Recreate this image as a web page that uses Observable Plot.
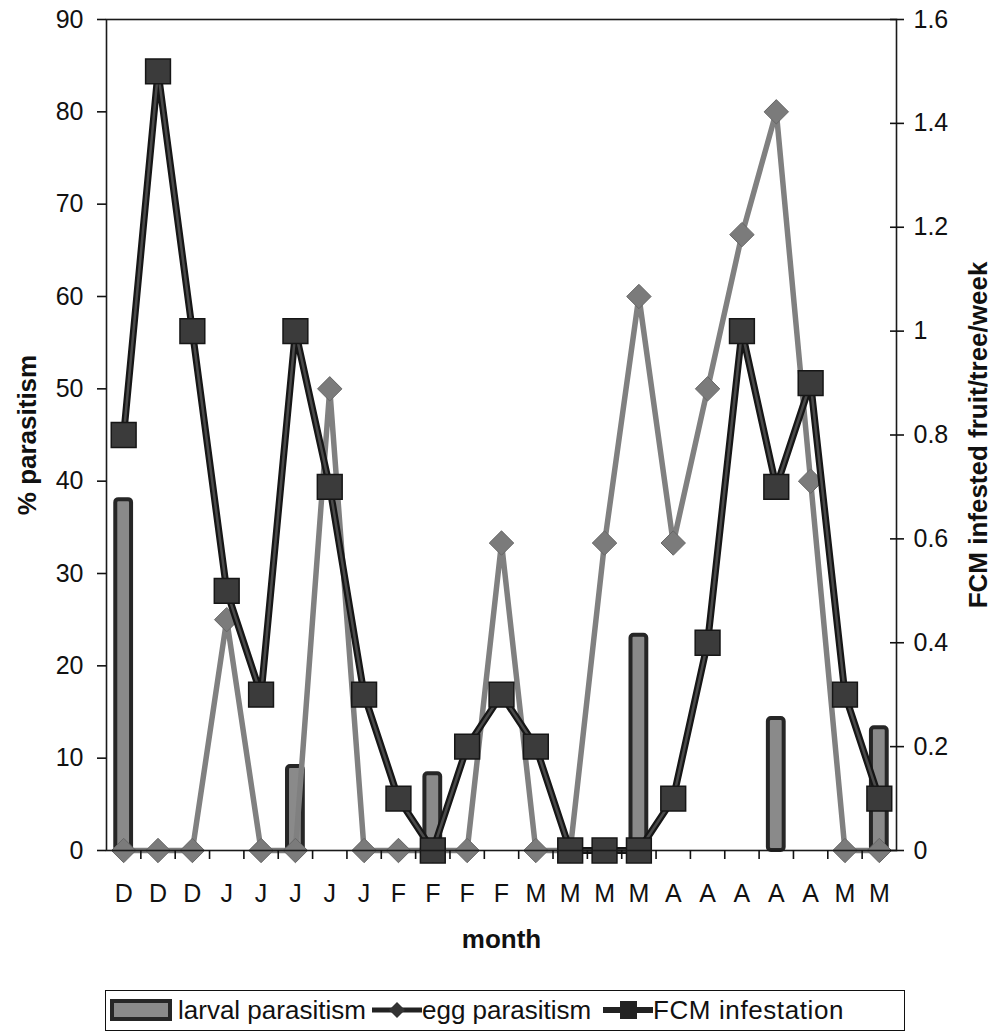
<!DOCTYPE html>
<html><head><meta charset="utf-8">
<script src="https://cdn.jsdelivr.net/npm/d3@7"></script>
<script src="https://cdn.jsdelivr.net/npm/@observablehq/plot@0.6"></script>
<style>
body{margin:0;background:#fff;font-family:"Liberation Sans",Arial,sans-serif;}
#wrap{position:relative;width:992px;height:1035px;overflow:hidden;}
#chart{position:absolute;left:0;top:0;}
#legend{position:absolute;left:105px;top:990px;width:800px;height:41px;box-sizing:border-box;border:1.5px solid #111;font-size:26px;color:#111;}
#legend .it{position:absolute;top:0;height:38px;display:flex;align-items:center;white-space:nowrap;}
</style></head><body><div id="wrap"><div id="chart"></div>
<div id="legend">
  <div class="it" style="left:4px"><svg width="62" height="22"><rect x="2" y="2" width="58" height="18" fill="#8a8a8a" stroke="#262626" stroke-width="4"/></svg><span style="margin-left:6px">larval parasitism</span></div>
  <div class="it" style="left:266px"><svg width="50" height="26"><line x1="0" y1="13" x2="50" y2="13" stroke="#222" stroke-width="5"/><path d="M25 5 L33 13 L25 21 L17 13 Z" fill="#333"/></svg><span>egg parasitism</span></div>
  <div class="it" style="left:497px"><svg width="50" height="26"><line x1="0" y1="13" x2="50" y2="13" stroke="#222" stroke-width="6"/><rect x="17" y="4" width="17" height="18" fill="#222"/></svg><span style="letter-spacing:0.6px">FCM infestation</span></div>
</div></div>
<script>
const months = ["D","D","D","J","J","J","J","J","F","F","F","F","M","M","M","M","A","A","A","A","A","M","M"];
const larval = [38,0,0,0,0,9.1,0,0,0,8.3,0,0,0,0,0,23.3,0,0,0,14.3,0,0,13.3];
const egg = [0,0,0,25,0,0,50,0,0,0,0,33.3,0,0,33.3,60,33.3,50,66.7,80,40,0,0];
const fcm = [0.8,1.5,1.0,0.5,0.3,1.0,0.7,0.3,0.1,0,0.2,0.3,0.2,0,0,0,0.1,0.4,1.0,0.7,0.9,0.3,0.1];
const leftTicks = [0,10,20,30,40,50,60,70,80,90];
const rightTicks = [0,0.2,0.4,0.6,0.8,1.0,1.2,1.4,1.6];

const leftMax = 90, rightMax = 1.6, k = leftMax / rightMax;
const data = months.map((m, i) => ({i, m, larval: larval[i], egg: egg[i], fcm: fcm[i] * k}));
const bars = data.filter(d => d.larval > 0);
const half = 0.23;

const chart = Plot.plot({
  width: 992,
  height: 985,
  marginTop: 19,
  marginBottom: 135,
  marginLeft: 106,
  marginRight: 96,
  style: {fontFamily: '"Liberation Sans", Arial, sans-serif', fontSize: "25px", color: "#111", background: "white"},
  x: {type: "linear", domain: [-0.5, months.length - 0.5]},
  y: {domain: [0, leftMax]},
  marks: [
    Plot.rectY(bars, {x1: d => d.i - half, x2: d => d.i + half, y: "larval", fill: "#8a8a8a", stroke: "#262626", strokeWidth: 4, rx: 3}),
    Plot.line(data, {x: "i", y: "egg", stroke: "#808080", strokeWidth: 5.5}),
    Plot.dot(data, {x: "i", y: "egg", symbol: "diamond2", r: 11, fill: "#7b7b7b", stroke: "#666", strokeWidth: 1}),
    Plot.line(data, {x: "i", y: "fcm", stroke: "#161616", strokeWidth: 7}),
    Plot.line(data, {x: "i", y: "fcm", stroke: "#4a4a4a", strokeWidth: 2.5}),
    Plot.dot(data, {x: "i", y: "fcm", symbol: "square", r: 14, fill: "#3b3b3b", stroke: "#161616", strokeWidth: 1.5}),
    Plot.frame({stroke: "#1a1a1a", strokeWidth: 1.6}),
    Plot.axisY({anchor: "left", ticks: leftTicks, tickSize: 9, tickPadding: 14, fontSize: 25, label: null, strokeWidth: 1.6}),
    Plot.axisY({anchor: "right", ticks: rightTicks.map(v => v * k), tickFormat: v => String(+(v / k).toFixed(1)), tickSize: 14, dx: -7, tickPadding: 10, fontSize: 25, label: null, strokeWidth: 1.6}),
    Plot.axisX({ticks: d3.range(months.length - 1).map(i => i + 0.5), tickFormat: () => "", tickSize: 9, label: null, strokeWidth: 1.6}),
    Plot.axisX({ticks: d3.range(months.length), tickFormat: i => months[i], tickSize: 0, tickPadding: 34, fontSize: 25, label: null}),
    Plot.text(["month"], {frameAnchor: "bottom", dy: 97, textAnchor: "middle", fontWeight: "bold", fontSize: 26, fill: "#111"}),
    Plot.text(["% parasitism"], {frameAnchor: "left", dx: -79, rotate: -90, textAnchor: "middle", lineAnchor: "middle", fontWeight: "bold", fontSize: 26, fill: "#111"}),
    Plot.text(["FCM infested fruit/tree/week"], {frameAnchor: "right", dx: 82, rotate: -90, textAnchor: "middle", lineAnchor: "middle", fontWeight: "bold", fontSize: 26, fill: "#111"})
  ]
});
document.getElementById("chart").appendChild(chart);
</script></body></html>
